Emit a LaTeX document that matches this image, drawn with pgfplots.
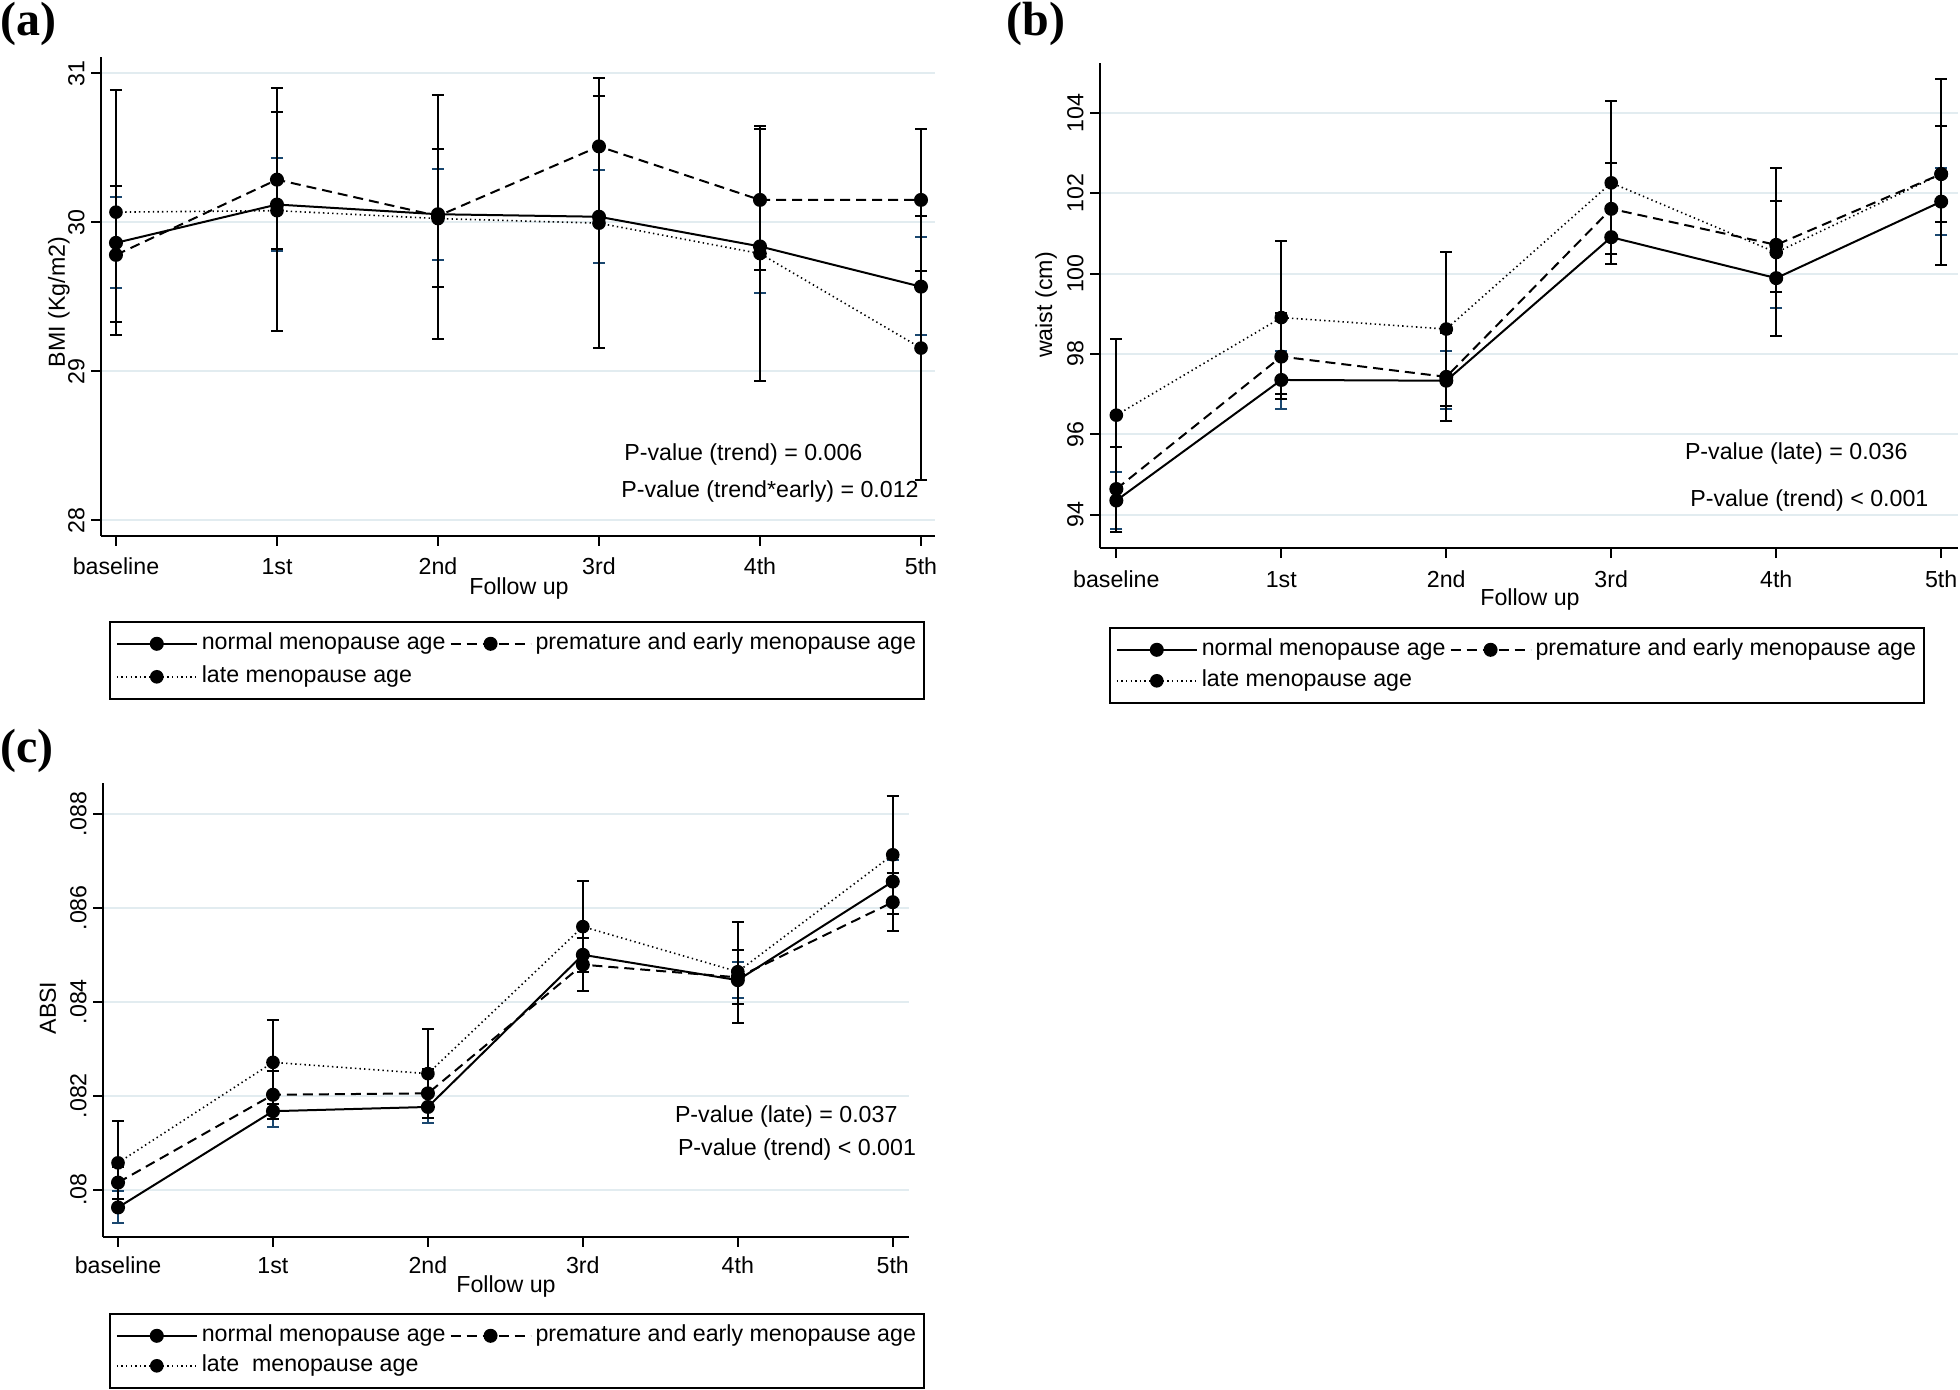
\documentclass[border=0pt]{standalone}
\usepackage{fontspec}
\setmainfont{Liberation Sans}
\newfontfamily\serifbf{Liberation Serif}
\usepackage{pgfplots}
\usepackage{pgfplotstable}
\pgfplotsset{compat=1.18}
\definecolor{gridc}{RGB}{226,236,240}
\definecolor{navyc}{RGB}{26,71,111}
\newcommand{\fs}{\fontsize{11.6pt}{14pt}\selectfont}
\newcommand{\lab}{\serifbf\bfseries\fontsize{24pt}{28pt}\selectfont}

% ---------------- data: x, mean, lower CI, upper CI ----------------
\pgfplotstableread{
x y lo hi
0 29.862 29.556 30.169
1 30.119 29.807 30.430
2 30.054 29.747 30.360
3 30.037 29.728 30.351
4 29.838 29.527 30.150
5 29.568 29.247 29.898
}\an
\pgfplotstableread{
x y lo hi
0 29.781 29.333 30.243
1 30.286 29.819 30.741
2 30.042 29.568 30.490
3 30.509 30.047 30.971
4 30.150 29.683 30.624
5 30.150 29.671 30.629
}\ae
\pgfplotstableread{
x y lo hi
0 30.068 29.247 30.885
1 30.078 29.268 30.899
2 30.025 29.216 30.856
3 29.994 29.156 30.847
4 29.790 28.933 30.648
5 29.156 28.269 30.042
}\al
\pgfplotstableread{
x y lo hi
0 94.352 93.648 95.067
1 97.352 96.638 98.067
2 97.333 96.638 98.067
3 100.905 100.238 101.571
4 99.886 99.143 100.619
5 101.790 100.971 102.619
}\bn
\pgfplotstableread{
x y lo hi
0 94.638 93.571 95.695
1 97.933 96.880 99.020
2 97.429 96.333 98.524
3 101.610 100.476 102.762
4 100.714 99.552 101.810
5 102.476 101.286 103.667
}\be
\pgfplotstableread{
x y lo hi
0 96.476 94.590 98.362
1 98.905 97.000 100.810
2 98.619 96.714 100.524
3 102.257 100.238 104.286
4 100.524 98.448 102.619
5 102.476 100.210 104.838
}\bl
\pgfplotstableread{
x y lo hi
0 0.07962 0.07929 0.07996
1 0.08167 0.08133 0.08202
2 0.08176 0.08141 0.08212
3 0.08500 0.08463 0.08536
4 0.08446 0.08407 0.08484
5 0.08656 0.08611 0.08701
}\cn
\pgfplotstableread{
x y lo hi
0 0.08015 0.07981 0.08049
1 0.08202 0.08151 0.08252
2 0.08205 0.08153 0.08256
3 0.08479 0.08424 0.08536
4 0.08452 0.08395 0.08511
5 0.08612 0.08551 0.08675
}\ce
\pgfplotstableread{
x y lo hi
0 0.08057 0.07968 0.08146
1 0.08271 0.08182 0.08361
2 0.08247 0.08153 0.08341
3 0.08560 0.08463 0.08658
4 0.08464 0.08355 0.08570
5 0.08713 0.08587 0.08838
}\cl

\pgfplotsset{
  stata/.style={
    scale only axis, clip=false,
    axis x line=bottom, axis y line=left,
    axis line style={-, line width=1pt, black},
    tick align=outside, major tick length=5pt,
    every tick/.style={black, line width=1pt},
    xtick={0,1,2,3,4,5},
    xticklabels={baseline,1st,2nd,3rd,4th,5th},
    ymajorgrids, major grid style={gridc, line width=1pt},
    tick label style={font=\fs},
    xticklabel style={anchor=base, inner sep=0pt},
    yticklabel style={anchor=south, inner sep=0pt, rotate=90},
    yticklabel shift=3pt,
    scaled y ticks=false,
    legend columns=2, legend cell align=left,
    legend image code/.code={\draw[mark repeat=2,mark phase=2,##1] plot coordinates {(0pt,0pt) (20pt,0pt) (40pt,0pt)};},
    legend style={draw=black, line width=0.8pt, font=\fs, anchor=north west,
      at={(axis description cs:0,0)}, inner xsep=3pt, inner ysep=4pt,
      nodes={inner sep=1pt, text height=9pt, text depth=3pt},
      column sep=1pt},
  },
  sn/.style={black, solid, line width=1pt, mark=*, mark size=3pt, mark options={solid, fill=black}},
  se/.style={black, dash pattern=on 5pt off 3pt, line width=1pt, mark=*, mark size=3pt, mark options={solid, fill=black}},
  sl/.style={black, dash pattern=on 0.7pt off 1.6pt, line width=0.8pt, mark=*, mark size=3pt, mark options={solid, fill=black}},
  ebn/.style={forget plot, navyc, solid, line width=1pt, only marks, mark=none,
    error bars/y dir=both, error bars/y explicit,
    error bars/error mark=|,
    error bars/error bar style={navyc, solid, line width=1pt},
    error bars/error mark options={navyc, solid, line width=1pt, mark size=3pt}},
  ebk/.style={forget plot, black, solid, line width=1pt, only marks, mark=none,
    error bars/y dir=both, error bars/y explicit,
    error bars/error mark=|,
    error bars/error bar style={black, solid, line width=1pt},
    error bars/error mark options={black, solid, line width=1pt, mark size=3pt}},
}

\begin{document}
\begin{tikzpicture}
\useasboundingbox (0pt,0pt) rectangle (980pt,-695pt);

% ---------------- (a) BMI ----------------
\begin{axis}[stata, at={(50.5pt,-267.85pt)}, anchor=south west,
  width=417pt, height=239.35pt,
  xmin=-0.093, xmax=5.087, ymin=27.897, ymax=31.109,
  ytick={28,29,30,31}, yticklabels={28,29,30,31},
  xticklabel style={yshift=-14.6pt},
  legend style={xshift=4pt, yshift=-42.65pt, row sep=2.5pt}]
\addplot[ebn] table[x=x, y=y, y error plus expr=\thisrow{hi}-\thisrow{y}, y error minus expr=\thisrow{y}-\thisrow{lo}] {\an};
\addplot[ebk] table[x=x, y=y, y error plus expr=\thisrow{hi}-\thisrow{y}, y error minus expr=\thisrow{y}-\thisrow{lo}] {\ae};
\addplot[ebk] table[x=x, y=y, y error plus expr=\thisrow{hi}-\thisrow{y}, y error minus expr=\thisrow{y}-\thisrow{lo}] {\al};
\addplot[sn] table[x=x,y=y] {\an}; \addlegendentry{normal menopause age}
\addplot[se] table[x=x,y=y] {\ae}; \addlegendentry{premature and early menopause age}
\addplot[sl] table[x=x,y=y] {\al}; \addlegendentry{late menopause age}
\end{axis}

% ---------------- (b) waist ----------------
\begin{axis}[stata, at={(550pt,-274pt)}, anchor=south west,
  width=429pt, height=242.5pt,
  xmin=-0.099, xmax=5.102, ymin=93.17, ymax=105.24,
  ytick={94,96,98,100,102,104}, yticklabels={94,96,98,100,102,104},
  xticklabel style={yshift=-14.5pt},
  legend style={xshift=4.5pt, yshift=-39.5pt, row sep=1.5pt}]
\addplot[ebn] table[x=x, y=y, y error plus expr=\thisrow{hi}-\thisrow{y}, y error minus expr=\thisrow{y}-\thisrow{lo}] {\bn};
\addplot[ebk] table[x=x, y=y, y error plus expr=\thisrow{hi}-\thisrow{y}, y error minus expr=\thisrow{y}-\thisrow{lo}] {\be};
\addplot[ebk] table[x=x, y=y, y error plus expr=\thisrow{hi}-\thisrow{y}, y error minus expr=\thisrow{y}-\thisrow{lo}] {\bl};
\addplot[sn] table[x=x,y=y] {\bn}; \addlegendentry{normal menopause age}
\addplot[se] table[x=x,y=y] {\be}; \addlegendentry{premature and early menopause age}
\addplot[sl] table[x=x,y=y] {\bl}; \addlegendentry{late menopause age}
\end{axis}

% ---------------- (c) ABSI ----------------
\begin{axis}[stata, at={(51.5pt,-618.4pt)}, anchor=south west,
  width=403pt, height=227.15pt,
  xmin=-0.097, xmax=5.105, ymin=0.078995, ymax=0.088669,
  ytick={0.080,0.082,0.084,0.086,0.088}, yticklabels={.08,.082,.084,.086,.088},
  xticklabel style={yshift=-13.1pt},
  legend style={xshift=3pt, yshift=-38.1pt, row sep=1pt}]
\addplot[ebn] table[x=x, y=y, y error plus expr=\thisrow{hi}-\thisrow{y}, y error minus expr=\thisrow{y}-\thisrow{lo}] {\cn};
\addplot[ebk] table[x=x, y=y, y error plus expr=\thisrow{hi}-\thisrow{y}, y error minus expr=\thisrow{y}-\thisrow{lo}] {\ce};
\addplot[ebk] table[x=x, y=y, y error plus expr=\thisrow{hi}-\thisrow{y}, y error minus expr=\thisrow{y}-\thisrow{lo}] {\cl};
\addplot[sn] table[x=x,y=y] {\cn}; \addlegendentry{normal menopause age}
\addplot[se] table[x=x,y=y] {\ce}; \addlegendentry{premature and early menopause age}
\addplot[sl] table[x=x,y=y] {\cl}; \addlegendentry{late\ \ menopause age}
\end{axis}

% ---------------- text ----------------
\node[anchor=base west, inner sep=0pt, font=\lab] at (0pt,-18pt) {(a)};
\node[anchor=base west, inner sep=0pt, font=\lab] at (503pt,-18pt) {(b)};
\node[anchor=base west, inner sep=0pt, font=\lab] at (0pt,-381pt) {(c)};

\node[rotate=90, inner sep=0pt, font=\fs] at (29.5pt,-151pt) {BMI (Kg/m2)};
\node[rotate=90, inner sep=0pt, font=\fs] at (523pt,-152.5pt) {waist (cm)};
\node[rotate=90, inner sep=0pt, font=\fs] at (24pt,-504pt) {ABSI};

\node[anchor=base, inner sep=0pt, font=\fs] at (259.5pt,-297pt) {Follow up};
\node[anchor=base, inner sep=0pt, font=\fs] at (765pt,-302.5pt) {Follow up};
\node[anchor=base, inner sep=0pt, font=\fs] at (253pt,-646pt) {Follow up};

\node[anchor=base west, inner sep=0pt, font=\fs] at (312pt,-230.5pt) {P-value (trend) = 0.006};
\node[anchor=base west, inner sep=0pt, font=\fs] at (310.5pt,-249pt) {P-value (trend*early) = 0.012};
\node[anchor=base west, inner sep=0pt, font=\fs] at (842.3pt,-229.5pt) {P-value (late) = 0.036};
\node[anchor=base west, inner sep=0pt, font=\fs] at (845pt,-253.5pt) {P-value (trend) < 0.001};
\node[anchor=base west, inner sep=0pt, font=\fs] at (337.3pt,-561pt) {P-value (late) = 0.037};
\node[anchor=base west, inner sep=0pt, font=\fs] at (338.8pt,-577.5pt) {P-value (trend) < 0.001};
\end{tikzpicture}
\end{document}
